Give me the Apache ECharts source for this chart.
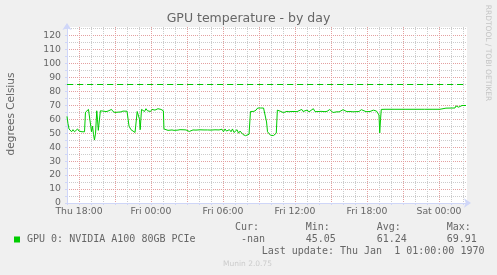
<!DOCTYPE html>
<html><head><meta charset="utf-8">
<script src="https://cdn.jsdelivr.net/npm/echarts@6/dist/echarts.min.js"></script>
<style>html,body{margin:0;padding:0;background:#f0f0f0}#c{width:497px;height:275px}</style>
</head><body><div id="c"></div>
<script>
// ---- data (hours since Thu 00:00, degrees Celsius) ----
const seriesName = 'GPU 0: NVIDIA A100 80GB PCIe';
const times = [17.00,17.08,17.17,17.25,17.38,17.50,17.63,17.75,17.88,18.00,18.13,18.25,18.38,18.46,18.54,18.67,18.79,18.92,18.98,19.04,19.13,19.21,19.29,19.38,19.48,19.54,19.61,19.69,19.78,19.92,20.08,20.25,20.42,20.58,20.71,20.83,21.00,21.17,21.33,21.50,21.67,21.83,22.00,22.11,22.17,22.25,22.33,22.42,22.50,22.58,22.67,22.75,22.85,22.96,23.04,23.10,23.21,23.33,23.46,23.58,23.71,23.83,23.96,24.08,24.21,24.33,24.46,24.58,24.71,24.83,24.96,25.03,25.08,25.25,25.42,25.58,25.75,25.92,26.08,26.25,26.42,26.58,26.75,26.92,27.08,27.19,27.29,27.50,27.75,28.08,28.42,28.58,28.71,29.00,29.33,29.67,29.79,29.92,30.04,30.17,30.29,30.42,30.54,30.67,30.79,30.92,31.04,31.17,31.29,31.42,31.54,31.67,31.78,31.88,32.00,32.17,32.29,32.42,32.58,32.75,32.89,33.00,33.13,33.25,33.38,33.54,33.63,33.71,33.83,33.96,34.08,34.21,34.33,34.44,34.53,34.67,34.83,35.03,35.17,35.33,35.50,35.67,35.83,36.00,36.17,36.33,36.56,36.67,36.83,37.00,37.17,37.33,37.53,37.67,37.83,38.00,38.17,38.33,38.50,38.67,38.89,39.00,39.17,39.33,39.50,39.67,39.83,40.00,40.13,40.33,40.58,40.83,41.08,41.33,41.53,41.63,41.92,42.25,42.53,42.67,42.79,42.92,43.00,43.06,43.13,43.19,43.50,44.33,45.17,46.00,46.58,46.69,46.79,47.42,48.08,48.14,48.58,49.08,49.33,49.42,49.54,49.63,49.73,49.92,50.08,50.25];
const temps = [62,57,53,52,51,52.5,51,52,53,51.5,52,51,50.5,51,65,66,67,66,55,51,55,49,45.05,50,66,60,52,51,66,65.5,65.7,65.4,65.8,65.2,67,65.5,64.8,65,65.6,65.2,65.8,65.5,65.7,65,55,54,52.5,53,51.5,52,50.5,51,65.5,66,60,52.5,67,66.5,65.5,67.5,66,66.8,65.5,67,66,66.5,65.5,67.5,68,67,67.6,66,53,52.5,52,52.5,52.3,52,52.4,52.2,52.5,52.2,52.4,52.3,52.2,51.2,52.4,52.3,52.2,52.4,52.3,51.2,52.3,52.2,52.4,52.3,51.5,52.8,51,53,51.5,50.5,52.5,51,53,50.5,51.5,52.5,50,51.5,50.5,49,47.8,48.2,49,49.2,65.5,65.7,65.6,66.5,68,67,68,67.2,68,67.5,58,51,50.5,48.5,49.5,48.3,48.8,50,66.5,66,65.5,64.7,65.3,65.6,65.3,65.5,66.4,65.5,65.4,65.6,67,65.5,65,66.5,65.3,65.6,67.5,65.4,65.3,65.5,65.6,65.5,65.4,65.6,66.9,65.6,64.8,65.2,65.3,65.2,65.4,66.8,65.5,65.4,65.5,65.3,65.4,65.5,66.8,65.5,65.4,65.5,66.5,67,65.8,66.5,63,50.2,60,67,67.1,67.1,67.1,67.1,67.1,67.6,67.1,67.1,67.1,67.8,67.9,68,68,69.5,68.7,68.6,69.9,69.8,69.91,69.8];
const warningLevel = 85;
const xTickHours = [18, 24, 30, 36, 42, 48];
const xTickLabels = ['Thu 18:00', 'Fri 00:00', 'Fri 06:00', 'Fri 12:00', 'Fri 18:00', 'Sat 00:00'];
const statLabels = ['Cur:', 'Min:', 'Avg:', 'Max:'];
const statValues = ['-nan', '45.05', '61.24', '69.91'];
const titleText = 'GPU temperature - by day';
const yAxisTitle = 'degrees Celsius';
const lastUpdate = 'Last update: Thu Jan  1 01:00:00 1970';
const sideText = 'RRDTOOL / TOBI OETIKER';
const footer = 'Munin 2.0.75';

// ---- chart ----
const GREEN = '#00cc00';
const MAJOR = '#e4a0a0';
const MINOR = '#cccccc';
const AXIS = '#cfd6f8';
const FONT = '#666666';
const SANS = '"DejaVu Sans", sans-serif';
const MONO = '"DejaVu Sans Mono", monospace';

const chart = echarts.init(document.getElementById('c'), null, {renderer: 'canvas'});
const statX = [235, 305.7, 376.7, 446.7];
const graphics = [
  {type: 'text', x: 248.5, y: 19, style: {text: titleText, font: '12.5px ' + SANS, fill: FONT, textAlign: 'center', textVerticalAlign: 'middle'}},
  {type: 'text', x: 11, y: 114, rotation: Math.PI / 2, style: {text: yAxisTitle, font: '10.5px ' + SANS, fill: FONT, textAlign: 'center', textVerticalAlign: 'middle'}},
  {type: 'text', x: 488, y: 53, rotation: -Math.PI / 2, style: {text: sideText, font: '7.5px ' + SANS, fill: '#c4c4c4', textAlign: 'center', textVerticalAlign: 'middle'}},
  {type: 'text', x: 261.7, y: 251.7, style: {text: lastUpdate, font: '10px ' + MONO, fill: FONT, textAlign: 'left', textVerticalAlign: 'middle'}},
  {type: 'text', x: 247.5, y: 264, style: {text: footer, font: '7.5px ' + SANS, fill: '#cccccc', textAlign: 'center', textVerticalAlign: 'middle'}}
];
statLabels.forEach((s, i) => {
  graphics.push({type: 'text', x: statX[i], y: 227.7, style: {text: s, font: '10px ' + MONO, fill: FONT, textAlign: 'left', textVerticalAlign: 'middle'}});
  graphics.push({type: 'text', x: statX[i], y: 239.3, style: {text: statValues[i].padStart(5, ' '), font: '10px ' + MONO, fill: FONT, textAlign: 'left', textVerticalAlign: 'middle'}});
});

chart.setOption({
  backgroundColor: '#f0f0f0',
  animation: false,
  grid: {left: 67, right: 30, top: 27, bottom: 72, show: true, backgroundColor: '#ffffff', borderWidth: 0},
  legend: {
    left: 9, top: 228.5, itemWidth: 6, itemHeight: 6, icon: 'rect',
    textStyle: {fontFamily: MONO, fontSize: 10, color: FONT, lineHeight: 12, padding: [0, 0, 0, 2]},
    data: [seriesName]
  },
  xAxis: {
    type: 'value', min: 17, max: 17 + 400 / 12, interval: 1,
    axisLine: {show: true, lineStyle: {color: AXIS, width: 1}, symbol: ['none', 'arrow'], symbolSize: [7, 7], symbolOffset: [0, 4]},
    axisTick: {show: true, length: 2, lineStyle: {color: AXIS}},
    axisLabel: {
      margin: 4, color: FONT, fontFamily: SANS, fontSize: 9.3, showMinLabel: true, showMaxLabel: true,
      formatter: v => { const k = xTickHours.indexOf(Math.round(v * 1000) / 1000); return k >= 0 ? xTickLabels[k] : ''; }
    },
    splitLine: {show: true, showMaxLine: false, lineStyle: {color: [MINOR, MAJOR, MINOR], type: [1, 1], width: 1}}
  },
  yAxis: {
    type: 'value', min: 0, max: 126, interval: 5,
    axisLine: {show: true, lineStyle: {color: AXIS, width: 1}, symbol: ['none', 'arrow'], symbolSize: [7, 7], symbolOffset: [0, 4]},
    axisTick: {show: true, length: 2, lineStyle: {color: AXIS}},
    axisLabel: {margin: 6, color: FONT, fontFamily: SANS, fontSize: 9.3, formatter: v => (v % 10 === 0 ? String(v) : '')},
    splitLine: {show: true, showMaxLine: false, lineStyle: {color: [MAJOR, MINOR], type: [1, 1], width: 1}}
  },
  series: [{
    name: seriesName, type: 'line', color: GREEN, showSymbol: false, symbol: 'none',
    lineStyle: {width: 1, color: GREEN},
    data: times.map((t, i) => [t, temps[i]]),
    markLine: {
      silent: true, symbol: ['none', 'none'], label: {show: false},
      lineStyle: {color: GREEN, type: [6, 4], width: 1},
      data: [{yAxis: warningLevel}]
    }
  }],
  graphic: graphics
});
</script></body></html>
